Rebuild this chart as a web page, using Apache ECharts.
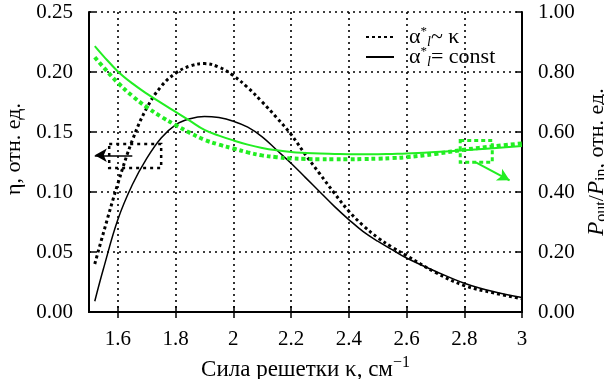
<!DOCTYPE html>
<html>
<head>
<meta charset="utf-8">
<script src="https://cdn.jsdelivr.net/npm/echarts@6/dist/echarts.min.js"></script>
<style>
  html, body { margin: 0; padding: 0; background: #fff; }
  #chart { width: 604px; height: 379px; }
</style>
</head>
<body>
<div id="chart"></div>
<script>
// grating strength, cm^-1
const kappa = [1.52, 1.55, 1.60, 1.65, 1.70, 1.75, 1.80, 1.85, 1.90, 1.95, 2.00, 2.05, 2.10, 2.15,
  2.20, 2.25, 2.30, 2.35, 2.40, 2.45, 2.50, 2.55, 2.60, 2.70, 2.80, 2.90, 3.00];

// efficiency eta (left axis)
const etaVar = [0.040, 0.066, 0.107, 0.143, 0.170, 0.188, 0.199, 0.205, 0.207, 0.204, 0.197, 0.187, 0.175, 0.162,
  0.148, 0.131, 0.115, 0.099, 0.084, 0.072, 0.062, 0.054, 0.047, 0.033, 0.022, 0.016, 0.011];
const etaConst = [0.009, 0.036, 0.077, 0.106, 0.128, 0.145, 0.156, 0.161, 0.163, 0.162, 0.159, 0.154, 0.146, 0.135,
  0.124, 0.112, 0.100, 0.088, 0.077, 0.067, 0.059, 0.052, 0.045, 0.034, 0.024, 0.017, 0.012];

// Pout/Pin (right axis)
const ratioVar = [0.849, 0.816, 0.764, 0.720, 0.683, 0.651, 0.623, 0.597, 0.574, 0.558, 0.545, 0.532, 0.522, 0.516,
  0.512, 0.510, 0.509, 0.509, 0.509, 0.510, 0.511, 0.513, 0.516, 0.527, 0.541, 0.552, 0.562];
const ratioConst = [0.886, 0.853, 0.802, 0.762, 0.728, 0.697, 0.667, 0.637, 0.607, 0.588, 0.572, 0.558, 0.547, 0.539,
  0.533, 0.530, 0.528, 0.527, 0.526, 0.526, 0.526, 0.527, 0.528, 0.533, 0.539, 0.546, 0.553];

const xTicks = [1.6, 1.8, 2.0, 2.2, 2.4, 2.6, 2.8, 3.0];

// annotation boxes / arrows in data coordinates
const leftBox = [[1.57, 0.140], [1.75, 0.120]];
const leftArrow = [[1.65, 0.1306], [1.52, 0.1306]];
const rightBox = [[2.786, 0.572], [2.897, 0.499]];
const rightArrow = [[2.84, 0.499], [2.957, 0.439]];

const FONT = "'Liberation Serif', 'Times New Roman', 'DejaVu Serif', serif";
const zip = (xs, ys) => xs.map((x, i) => [x, ys[i]]);

const chart = echarts.init(document.getElementById('chart'));

const legendRich = {
  t: { fontFamily: FONT, fontSize: 22, color: '#000', lineHeight: 24 },
  sup: { fontFamily: FONT, fontSize: 13, color: '#000', verticalAlign: 'top', lineHeight: 12 },
  sub: { fontFamily: FONT, fontSize: 14, fontStyle: 'italic', color: '#000', verticalAlign: 'bottom', lineHeight: 12 }
};

const legendBase = {
  orient: 'vertical',
  left: 360,
  itemWidth: 28,
  itemHeight: 14,
  itemStyle: { opacity: 0 },
  selectedMode: false,
  textStyle: { fontFamily: FONT, padding: [0, 0, 0, 10], rich: legendRich },
  formatter: name => name === 'var'
    ? '{t|α}{sup|*}{sub|l}{t|~ κ}'
    : '{t|α}{sup|*}{sub|l}{t|= const}'
};

const option = {
  animation: false,
  backgroundColor: '#fff',
  textStyle: { fontFamily: FONT },
  grid: { left: 89, right: 82, top: 12, bottom: 67, containLabel: false, outerBoundsMode: 'none' },
  legend: [
    Object.assign({}, legendBase, { top: 20, data: ['var'] }),
    Object.assign({}, legendBase, { top: 40, data: ['const'] })
  ],
  xAxis: [{
    type: 'value',
    min: 1.5,
    max: 3,
    name: 'Сила решетки κ, см{sup|−1}',
    nameLocation: 'middle',
    nameGap: 40,
    nameTextStyle: {
      fontFamily: FONT, fontSize: 23, color: '#000',
      rich: { sup: { fontFamily: FONT, fontSize: 16, color: '#000', verticalAlign: 'top', padding: [0, 0, 14, 0] } }
    },
    axisLine: { lineStyle: { color: '#000', width: 2 } },
    axisTick: { inside: true, length: 6, customValues: xTicks, lineStyle: { color: '#000', width: 1.5 } },
    axisLabel: {
      customValues: xTicks,
      margin: 17,
      fontFamily: FONT, fontSize: 21, color: '#000',
      formatter: v => String(Math.round(v * 10) / 10)
    },
    splitLine: { show: true, lineStyle: { color: '#000', width: 1.6, type: [2, 4] } }
  }, {
    type: 'value',
    position: 'top',
    min: 1.5,
    max: 3,
    axisLine: { lineStyle: { color: '#000', width: 2 } },
    axisTick: { inside: true, length: 6, customValues: xTicks, lineStyle: { color: '#000', width: 1.5 } },
    axisLabel: { show: false },
    splitLine: { show: false }
  }],
  yAxis: [{
    type: 'value',
    min: 0,
    max: 0.25,
    interval: 0.05,
    name: 'η, отн. ед.',
    nameLocation: 'middle',
    nameGap: 64,
    nameTextStyle: { fontFamily: FONT, fontSize: 22, color: '#000', padding: [0, 0, 0, 26] },
    axisLine: { show: true, lineStyle: { color: '#000', width: 2 } },
    axisTick: { show: true, inside: true, length: 6, lineStyle: { color: '#000', width: 1.5 } },
    axisLabel: { margin: 16, fontFamily: FONT, fontSize: 21, color: '#000', formatter: v => v.toFixed(2) },
    splitLine: { show: true, lineStyle: { color: '#000', width: 1.6, type: [2, 4] } }
  }, {
    type: 'value',
    position: 'right',
    min: 0,
    max: 1,
    interval: 0.2,
    name: '{i|P}{sub|out}/{i|P}{sub|in}, отн. ед.',
    nameLocation: 'middle',
    nameGap: 62,
    nameTextStyle: {
      fontFamily: FONT, fontSize: 22, color: '#000',
      rich: {
        i: { fontFamily: FONT, fontSize: 23, fontStyle: 'italic', color: '#000' },
        sub: { fontFamily: FONT, fontSize: 16, color: '#000', verticalAlign: 'bottom', padding: [10, 0, 0, 0] }
      }
    },
    axisLine: { show: true, lineStyle: { color: '#000', width: 2 } },
    axisTick: { show: true, inside: true, length: 6, lineStyle: { color: '#000', width: 1.5 } },
    axisLabel: { margin: 16, fontFamily: FONT, fontSize: 21, color: '#000', formatter: v => v.toFixed(2) },
    splitLine: { show: false }
  }],
  series: [{
    name: 'var',
    type: 'line',
    smooth: 0.4,
    symbol: 'none',
    silent: true,
    data: zip(kappa, etaVar),
    lineStyle: { color: '#000', width: 3, type: [3, 3] },
    itemStyle: { color: '#000' },
    markArea: {
      silent: true,
      itemStyle: { color: 'rgba(0,0,0,0)', borderColor: '#000', borderWidth: 2.5, borderType: [3, 4] },
      data: [[{ coord: leftBox[0] }, { coord: leftBox[1] }]]
    },
    markLine: {
      silent: true,
      symbol: ['none', 'arrow'],
      symbolSize: [10, 12],
      label: { show: false },
      lineStyle: { color: '#000', width: 1.5, type: 'solid' },
      data: [[{ coord: leftArrow[0] }, { coord: leftArrow[1] }]]
    }
  }, {
    name: 'const',
    type: 'line',
    smooth: 0.4,
    symbol: 'none',
    silent: true,
    data: zip(kappa, etaConst),
    lineStyle: { color: '#000', width: 1.5 },
    itemStyle: { color: '#000' }
  }, {
    name: 'ratioVar',
    type: 'line',
    yAxisIndex: 1,
    smooth: 0.4,
    symbol: 'none',
    silent: true,
    data: zip(kappa, ratioVar),
    lineStyle: { color: '#22ee22', width: 4, type: [4, 3] },
    markArea: {
      silent: true,
      itemStyle: { color: 'rgba(0,0,0,0)', borderColor: '#22ee22', borderWidth: 3, borderType: [4, 3] },
      data: [[{ coord: rightBox[0] }, { coord: rightBox[1] }]]
    },
    markLine: {
      silent: true,
      symbol: ['none', 'arrow'],
      symbolSize: [10, 12],
      label: { show: false },
      lineStyle: { color: '#22ee22', width: 2, type: 'solid' },
      data: [[{ coord: rightArrow[0] }, { coord: rightArrow[1] }]]
    }
  }, {
    name: 'ratioConst',
    type: 'line',
    yAxisIndex: 1,
    smooth: 0.4,
    symbol: 'none',
    silent: true,
    data: zip(kappa, ratioConst),
    lineStyle: { color: '#22ee22', width: 2 }
  }]
};

chart.setOption(option);
</script>
</body>
</html>
